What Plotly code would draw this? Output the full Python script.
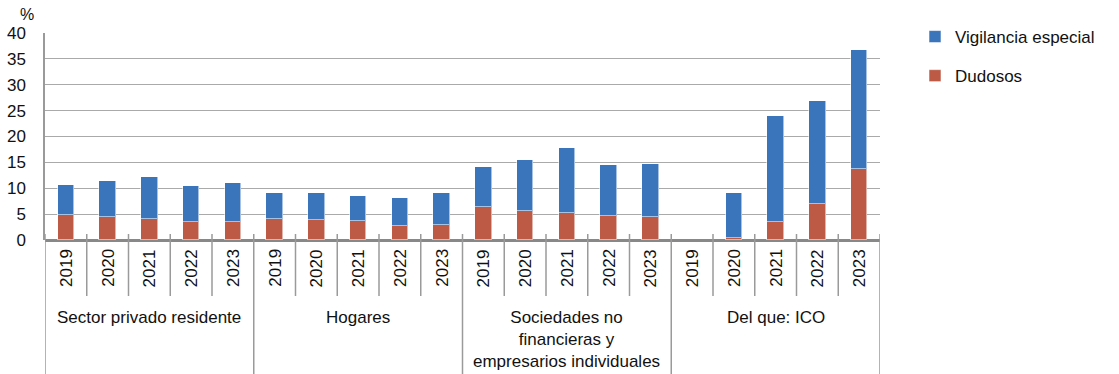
import plotly.graph_objects as go

groups = ["Sector privado residente", "Hogares",
          "Sociedades no<br>financieras y<br>empresarios individuales", "Del que: ICO"]
years = ["2019", "2020", "2021", "2022", "2023"]

totales = [10.6, 11.4, 12.2, 10.5, 11.0,
           9.0, 9.1, 8.6, 8.1, 9.0,
           14.1, 15.4, 17.7, 14.4, 14.6,
           None, 9.0, 23.9, 26.8, 36.7]
dudosos = [4.8, 4.4, 4.1, 3.4, 3.4,
           4.0, 3.8, 3.6, 2.7, 2.9,
           6.3, 5.6, 5.3, 4.6, 4.4,
           None, 0.3, 3.4, 7.0, 13.7]
vigilancia = [None if t is None else round(t - d, 2) for t, d in zip(totales, dudosos)]

n_years = len(years)
n = len(groups) * n_years
xs = list(range(n))

BLUE = "#3A75BC"
RED = "#BC5A45"
GRAY = "#9A9A9A"
FONT = "Liberation Sans, Arial, sans-serif"

fig = go.Figure()
fig.add_trace(go.Bar(x=xs, y=dudosos, name="Dudosos", marker_color=RED,
                     marker_line=dict(color="rgba(255,255,255,0.55)", width=1),
                     width=0.4, legendgroup="b", legendrank=2))
fig.add_trace(go.Bar(x=xs, y=vigilancia, name="Vigilancia especial", marker_color=BLUE,
                     marker_line=dict(color="rgba(255,255,255,0.55)", width=1),
                     width=0.4, legendgroup="a", legendrank=1))

L, R, T, B = 45, 239, 33, 134
H = 374 - T - B
W = 1119 - L - R

def py(px_below):
    return -px_below / H

shapes = []
for i in range(n + 1):
    xb = i - 0.5
    is_group = (i % n_years == 0)
    shapes.append(dict(type="line", xref="x", yref="paper", x0=xb, x1=xb,
                       y0=6 / H, y1=py(134 if is_group else 56),
                       line=dict(color=GRAY, width=1.5)))

annotations = []
for i in xs:
    annotations.append(dict(x=i, y=py(28), xref="x", yref="paper", text=years[i % n_years],
                            textangle=-90, showarrow=False, xanchor="center", yanchor="middle",
                            font=dict(size=17, color="#111", family=FONT)))
for g, name in enumerate(groups):
    annotations.append(dict(x=g * n_years + (n_years - 1) / 2, y=py(66), xref="x", yref="paper",
                            text=name, showarrow=False, xanchor="center", yanchor="top",
                            font=dict(size=17, color="#111", family=FONT)))
annotations.append(dict(x=-27 / W, y=(H + 19) / H, xref="paper", yref="paper", text="%",
                        showarrow=False, xanchor="left", yanchor="middle",
                        font=dict(size=16, color="#111", family=FONT)))

fig.update_layout(
    barmode="stack",
    width=1119, height=374,
    margin=dict(l=L, r=R, t=T, b=B, autoexpand=False),
    paper_bgcolor="white", plot_bgcolor="white",
    font=dict(family=FONT, size=16, color="#111"),
    showlegend=True,
    legend=dict(x=(915 - L) / W, y=(H + 14) / H, xanchor="left", yanchor="top",
                traceorder="grouped", tracegroupgap=14,
                font=dict(size=17, color="#111", family=FONT)),
    shapes=shapes,
    annotations=annotations,
    bargap=0,
)
fig.update_xaxes(range=[-0.5, n - 0.5], showticklabels=False, showgrid=False,
                 zeroline=False, showline=False, ticks="")
fig.update_yaxes(range=[0, 40], dtick=5, showgrid=True, gridcolor="#AAAAAA", gridwidth=1.2,
                 showline=True, linecolor=GRAY, linewidth=1.5, zeroline=True,
                 zerolinecolor="#888888", zerolinewidth=2.5, ticks="",
                 ticklabelstandoff=14, tickfont=dict(size=17, color="#111", family=FONT))

fig.write_html("out.html")
